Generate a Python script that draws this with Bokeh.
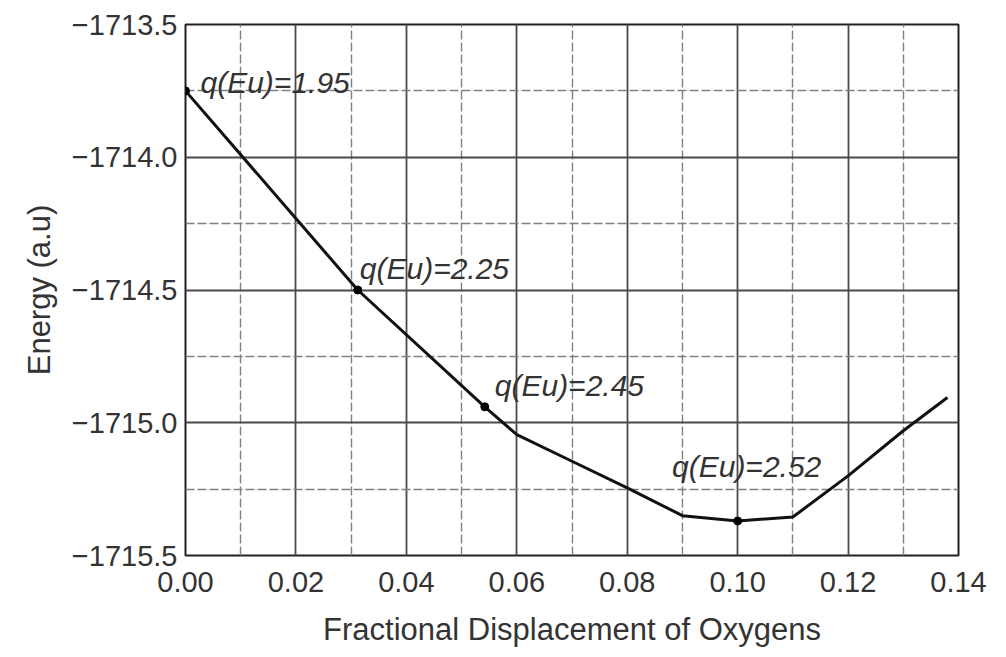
from bokeh.plotting import figure
from bokeh.models import FixedTicker, CustomJSTickFormatter, ColumnDataSource
from bokeh.core.properties import value
from bokeh.embed import file_html
from bokeh.resources import INLINE

# ---- data ----
curve_x = [0.0, 0.0312, 0.0542, 0.06, 0.07, 0.08, 0.09, 0.10, 0.11, 0.12, 0.13, 0.138]
curve_y = [-1713.75, -1714.5, -1714.94, -1715.045, -1715.145, -1715.245, -1715.35,
           -1715.37, -1715.355, -1715.2, -1715.03, -1714.905]

point_x = [0.0, 0.0312, 0.0542, 0.10]
point_y = [-1713.75, -1714.5, -1714.94, -1715.37]
point_labels = ["q(Eu)=1.95", "q(Eu)=2.25", "q(Eu)=2.45", "q(Eu)=2.52"]

x_major = [0.0, 0.02, 0.04, 0.06, 0.08, 0.10, 0.12, 0.14]
x_minor = [0.01, 0.03, 0.05, 0.07, 0.09, 0.11, 0.13]
y_major = [-1715.5, -1715.0, -1714.5, -1714.0, -1713.5]
y_minor = [-1715.25, -1714.75, -1714.25, -1713.75]

x_label = "Fractional Displacement of Oxygens"
y_label = "Energy (a.u)"

FONT = "Liberation Sans"

p = figure(width=1006, height=657, output_backend="svg", toolbar_location=None,
           x_range=(0.0, 0.14), y_range=(-1715.5, -1713.5),
           frame_width=773, frame_height=531,
           min_border_left=185, min_border_right=48, min_border_top=24,
           min_border_bottom=102)
p.background_fill_color = "white"
p.border_fill_color = "white"
p.outline_line_color = "#222222"
p.outline_line_width = 2

p.xaxis.ticker = FixedTicker(ticks=x_major, minor_ticks=x_minor)
p.yaxis.ticker = FixedTicker(ticks=y_major, minor_ticks=y_minor)
p.xaxis.formatter = CustomJSTickFormatter(code="return tick.toFixed(2);")
p.yaxis.formatter = CustomJSTickFormatter(
    code="return (tick < 0 ? '\u2212' : '') + Math.abs(tick).toFixed(1);")

for ax in (p.xaxis, p.yaxis):
    ax.axis_line_color = None
    ax.major_tick_out = 0
    ax.major_tick_in = 0
    ax.minor_tick_out = 0
    ax.minor_tick_in = 0
    ax.major_label_text_font = FONT
    ax.major_label_text_font_size = "29px"
    ax.major_label_text_color = "#333333"
    ax.axis_label_text_font = FONT
    ax.axis_label_text_font_size = "31px"
    ax.axis_label_text_font_style = "normal"
    ax.axis_label_text_color = "#333333"

p.xaxis.axis_label = x_label
p.yaxis.axis_label = y_label
p.xaxis.major_label_standoff = 16
p.yaxis.major_label_standoff = 8
p.xaxis.axis_label_standoff = 17
p.yaxis.axis_label_standoff = 12

for g in (p.xgrid, p.ygrid):
    g.grid_line_color = "#4a4a4a"
    g.grid_line_width = 1.8
    g.minor_grid_line_color = "#808080"
    g.minor_grid_line_width = 1.4
    g.minor_grid_line_dash = "9 3"

p.line(curve_x, curve_y, line_color="#111111", line_width=3)
p.scatter(point_x, point_y, size=8, fill_color="#000000", line_color="#000000")

src = ColumnDataSource(dict(x=point_x, y=point_y, t=point_labels,
                            dx=[15, 2, 10, 9], dy=[-8, -22, -21, -54],
                            al=["left", "left", "left", "center"]))
p.text(x="x", y="y", text="t", x_offset="dx", y_offset="dy", source=src,
       text_align="al", text_baseline="alphabetic",
       text_font=value(FONT), text_font_style="italic",
       text_font_size="30px", text_color="#333333")

open("out.html", "w").write(file_html(p, INLINE))
